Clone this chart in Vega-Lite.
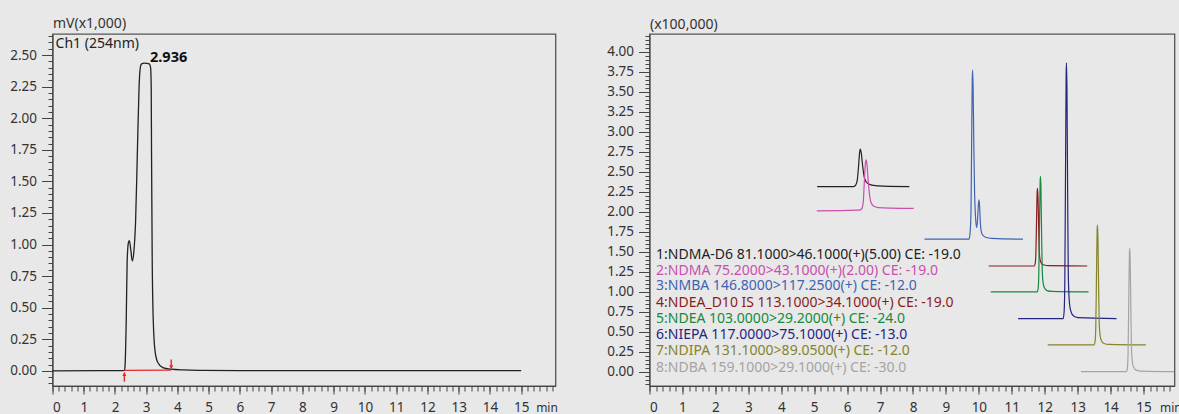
{
  "$schema": "https://vega.github.io/schema/vega-lite/v6.json",
  "background": "#e8e8e8",
  "padding": {"left": 8.5, "top": 16, "right": 0, "bottom": 0},
  "bounds": "flush",
  "spacing": 94,
  "config": {
    "view": {"stroke": "#555555", "strokeWidth": 1.3},
    "font": "Noto Sans",
    "axis": {"labelFont": "Noto Sans", "labelFontSize": 13.5, "labelColor": "#333333", "tickColor": "#444444", "domainColor": "#444444", "grid": false, "titleFont": "Noto Sans", "titleFontWeight": "normal", "titleColor": "#333333"}
  },
  "datasets": {
    "left": [
      {"t": 0, "v": 0}, {"t": 1.5, "v": 0.001}, {"t": 2.2, "v": 0.001}, {"t": 2.3, "v": 0.003}, {"t": 2.32, "v": 0.03},
      {"t": 2.36, "v": 0.4}, {"t": 2.39, "v": 0.87}, {"t": 2.43, "v": 1.015}, {"t": 2.46, "v": 1.03}, {"t": 2.51, "v": 0.95},
      {"t": 2.554, "v": 0.87}, {"t": 2.606, "v": 0.949}, {"t": 2.66, "v": 1.187}, {"t": 2.715, "v": 1.714}, {"t": 2.77, "v": 2.241},
      {"t": 2.81, "v": 2.4}, {"t": 2.85, "v": 2.431}, {"t": 2.94, "v": 2.437}, {"t": 3.1, "v": 2.43}, {"t": 3.14, "v": 2.4},
      {"t": 3.16, "v": 2.24}, {"t": 3.17, "v": 1.71}, {"t": 3.19, "v": 0.93}, {"t": 3.225, "v": 0.4}, {"t": 3.28, "v": 0.16},
      {"t": 3.37, "v": 0.066}, {"t": 3.53, "v": 0.026}, {"t": 3.79, "v": 0.013}, {"t": 4.2, "v": 0.007}, {"t": 4.8, "v": 0.004},
      {"t": 6, "v": 0.002}, {"t": 15, "v": 0.001}
    ],
    "redbase": [{"t": 2.3, "v": 0.003}, {"t": 3.8, "v": 0.006}],
    "arrowup": [{"t": 2.3, "v": -0.046}],
    "arrowdown": [{"t": 3.8, "v": 0.05}],
    "leftlabel": [{"t": 0.1, "v": 2.585, "label": "Ch1 (254nm)"}],
    "peaklabel": [{"t": 3.12, "v": 2.48, "label": "2.936"}],
    "traces": [
      {"s": "NDMA-D6", "t": 5.09, "v": 2.3125}, {"s": "NDMA-D6", "t": 6.2, "v": 2.3125}, {"s": "NDMA-D6", "t": 6.26, "v": 2.33},
      {"s": "NDMA-D6", "t": 6.31, "v": 2.4}, {"s": "NDMA-D6", "t": 6.35, "v": 2.58}, {"s": "NDMA-D6", "t": 6.38, "v": 2.74},
      {"s": "NDMA-D6", "t": 6.4, "v": 2.78}, {"s": "NDMA-D6", "t": 6.43, "v": 2.73}, {"s": "NDMA-D6", "t": 6.47, "v": 2.58},
      {"s": "NDMA-D6", "t": 6.52, "v": 2.43}, {"s": "NDMA-D6", "t": 6.58, "v": 2.37}, {"s": "NDMA-D6", "t": 6.66, "v": 2.345},
      {"s": "NDMA-D6", "t": 6.8, "v": 2.327}, {"s": "NDMA-D6", "t": 7.1, "v": 2.318}, {"s": "NDMA-D6", "t": 7.89, "v": 2.3125},

      {"s": "NDMA", "t": 5.08, "v": 2.009}, {"s": "NDMA", "t": 6.3, "v": 2.018}, {"s": "NDMA", "t": 6.4, "v": 2.022},
      {"s": "NDMA", "t": 6.45, "v": 2.04}, {"s": "NDMA", "t": 6.49, "v": 2.12}, {"s": "NDMA", "t": 6.52, "v": 2.35},
      {"s": "NDMA", "t": 6.55, "v": 2.58}, {"s": "NDMA", "t": 6.57, "v": 2.646}, {"s": "NDMA", "t": 6.6, "v": 2.6},
      {"s": "NDMA", "t": 6.63, "v": 2.44}, {"s": "NDMA", "t": 6.67, "v": 2.25}, {"s": "NDMA", "t": 6.72, "v": 2.12},
      {"s": "NDMA", "t": 6.8, "v": 2.07}, {"s": "NDMA", "t": 6.95, "v": 2.05}, {"s": "NDMA", "t": 7.3, "v": 2.043},
      {"s": "NDMA", "t": 8.02, "v": 2.04},

      {"s": "NMBA", "t": 8.35, "v": 1.655}, {"s": "NMBA", "t": 9.7, "v": 1.655}, {"s": "NMBA", "t": 9.73, "v": 1.72},
      {"s": "NMBA", "t": 9.76, "v": 1.97}, {"s": "NMBA", "t": 9.78, "v": 2.82}, {"s": "NMBA", "t": 9.8, "v": 3.66},
      {"s": "NMBA", "t": 9.81, "v": 3.77}, {"s": "NMBA", "t": 9.825, "v": 3.56}, {"s": "NMBA", "t": 9.845, "v": 2.9},
      {"s": "NMBA", "t": 9.87, "v": 2.25}, {"s": "NMBA", "t": 9.9, "v": 1.92}, {"s": "NMBA", "t": 9.935, "v": 1.8},
      {"s": "NMBA", "t": 9.96, "v": 1.9}, {"s": "NMBA", "t": 9.985, "v": 2.08}, {"s": "NMBA", "t": 10.005, "v": 2.146},
      {"s": "NMBA", "t": 10.025, "v": 2.05}, {"s": "NMBA", "t": 10.045, "v": 1.86}, {"s": "NMBA", "t": 10.07, "v": 1.76},
      {"s": "NMBA", "t": 10.11, "v": 1.71}, {"s": "NMBA", "t": 10.2, "v": 1.68}, {"s": "NMBA", "t": 10.4, "v": 1.665},
      {"s": "NMBA", "t": 11.34, "v": 1.655},

      {"s": "NDEA_D10", "t": 10.3, "v": 1.32}, {"s": "NDEA_D10", "t": 11.68, "v": 1.32}, {"s": "NDEA_D10", "t": 11.71, "v": 1.349},
      {"s": "NDEA_D10", "t": 11.73, "v": 1.466}, {"s": "NDEA_D10", "t": 11.75, "v": 1.854}, {"s": "NDEA_D10", "t": 11.77, "v": 2.242},
      {"s": "NDEA_D10", "t": 11.78, "v": 2.29}, {"s": "NDEA_D10", "t": 11.795, "v": 2.193}, {"s": "NDEA_D10", "t": 11.815, "v": 1.805},
      {"s": "NDEA_D10", "t": 11.835, "v": 1.495}, {"s": "NDEA_D10", "t": 11.86, "v": 1.398}, {"s": "NDEA_D10", "t": 11.9, "v": 1.354},
      {"s": "NDEA_D10", "t": 11.98, "v": 1.332}, {"s": "NDEA_D10", "t": 12.13, "v": 1.324}, {"s": "NDEA_D10", "t": 13.29, "v": 1.32},

      {"s": "NDEA", "t": 10.36, "v": 0.996}, {"s": "NDEA", "t": 11.77, "v": 0.996}, {"s": "NDEA", "t": 11.8, "v": 1.039},
      {"s": "NDEA", "t": 11.82, "v": 1.213}, {"s": "NDEA", "t": 11.84, "v": 1.79}, {"s": "NDEA", "t": 11.86, "v": 2.368},
      {"s": "NDEA", "t": 11.87, "v": 2.44}, {"s": "NDEA", "t": 11.885, "v": 2.296}, {"s": "NDEA", "t": 11.905, "v": 1.718},
      {"s": "NDEA", "t": 11.925, "v": 1.256}, {"s": "NDEA", "t": 11.95, "v": 1.112}, {"s": "NDEA", "t": 11.99, "v": 1.047},
      {"s": "NDEA", "t": 12.07, "v": 1.013}, {"s": "NDEA", "t": 12.22, "v": 1.002}, {"s": "NDEA", "t": 13.33, "v": 0.996},

      {"s": "NIEPA", "t": 11.19, "v": 0.6625}, {"s": "NIEPA", "t": 12.56, "v": 0.6625}, {"s": "NIEPA", "t": 12.59, "v": 0.758},
      {"s": "NIEPA", "t": 12.61, "v": 1.142}, {"s": "NIEPA", "t": 12.63, "v": 2.421}, {"s": "NIEPA", "t": 12.65, "v": 3.7},
      {"s": "NIEPA", "t": 12.66, "v": 3.86}, {"s": "NIEPA", "t": 12.675, "v": 3.54}, {"s": "NIEPA", "t": 12.695, "v": 2.261},
      {"s": "NIEPA", "t": 12.715, "v": 1.238}, {"s": "NIEPA", "t": 12.74, "v": 0.918}, {"s": "NIEPA", "t": 12.78, "v": 0.774},
      {"s": "NIEPA", "t": 12.86, "v": 0.701}, {"s": "NIEPA", "t": 13.01, "v": 0.675}, {"s": "NIEPA", "t": 14.18, "v": 0.6625},

      {"s": "NDIPA", "t": 12.09, "v": 0.334}, {"s": "NDIPA", "t": 13.5, "v": 0.334}, {"s": "NDIPA", "t": 13.53, "v": 0.379},
      {"s": "NDIPA", "t": 13.55, "v": 0.559}, {"s": "NDIPA", "t": 13.57, "v": 1.159}, {"s": "NDIPA", "t": 13.59, "v": 1.759},
      {"s": "NDIPA", "t": 13.6, "v": 1.834}, {"s": "NDIPA", "t": 13.615, "v": 1.684}, {"s": "NDIPA", "t": 13.635, "v": 1.084},
      {"s": "NDIPA", "t": 13.655, "v": 0.604}, {"s": "NDIPA", "t": 13.68, "v": 0.454}, {"s": "NDIPA", "t": 13.72, "v": 0.387},
      {"s": "NDIPA", "t": 13.8, "v": 0.352}, {"s": "NDIPA", "t": 13.95, "v": 0.34}, {"s": "NDIPA", "t": 15.07, "v": 0.334},

      {"s": "NDBA", "t": 13.1, "v": 0}, {"s": "NDBA", "t": 14.48, "v": 0}, {"s": "NDBA", "t": 14.51, "v": 0.046},
      {"s": "NDBA", "t": 14.53, "v": 0.231}, {"s": "NDBA", "t": 14.55, "v": 0.847}, {"s": "NDBA", "t": 14.57, "v": 1.463},
      {"s": "NDBA", "t": 14.58, "v": 1.54}, {"s": "NDBA", "t": 14.595, "v": 1.386}, {"s": "NDBA", "t": 14.615, "v": 0.77},
      {"s": "NDBA", "t": 14.635, "v": 0.277}, {"s": "NDBA", "t": 14.66, "v": 0.123}, {"s": "NDBA", "t": 14.7, "v": 0.054},
      {"s": "NDBA", "t": 14.78, "v": 0.018}, {"s": "NDBA", "t": 14.93, "v": 0.006}, {"s": "NDBA", "t": 15.94, "v": 0}
    ],
    "legend": [
      {"s": "NDMA-D6", "t": 0.2, "v": 1.459, "label": "1:NDMA-D6 81.1000>46.1000(+)(5.00) CE: -19.0"},
      {"s": "NDMA", "t": 0.2, "v": 1.258, "label": "2:NDMA 75.2000>43.1000(+)(2.00) CE: -19.0"},
      {"s": "NMBA", "t": 0.2, "v": 1.0675, "label": "3:NMBA  146.8000>117.2500(+) CE: -12.0"},
      {"s": "NDEA_D10", "t": 0.2, "v": 0.8625, "label": "4:NDEA_D10 IS 113.1000>34.1000(+) CE: -19.0"},
      {"s": "NDEA", "t": 0.2, "v": 0.655, "label": "5:NDEA 103.0000>29.2000(+) CE: -24.0"},
      {"s": "NIEPA", "t": 0.2, "v": 0.459, "label": "6:NIEPA 117.0000>75.1000(+) CE: -13.0"},
      {"s": "NDIPA", "t": 0.2, "v": 0.259, "label": "7:NDIPA 131.1000>89.0500(+) CE: -12.0"},
      {"s": "NDBA", "t": 0.2, "v": 0.05, "label": "8:NDBA 159.1000>29.1000(+) CE: -30.0"}
    ]
  },
  "hconcat": [
    {
      "width": 503,
      "height": 352,
      "layer": [
        {
          "data": {"name": "left"},
          "mark": {"type": "line", "color": "#222222", "strokeWidth": 1.3, "interpolate": "monotone"},
          "encoding": {
            "x": {"field": "t", "type": "quantitative", "scale": {"domain": [0, 16.1], "nice": false, "zero": false},
              "axis": {"orient": "bottom", "values": [0,1,2,3,4,5,6,7,8,9,10,11,12,13,14,15], "format": "d", "tickSize": 8, "labelPadding": 6,
                "title": "min", "titleFontSize": 12, "titleX": 494, "titleY": 25, "titleAlign": "center", "titleBaseline": "alphabetic"}},
            "y": {"field": "v", "type": "quantitative", "scale": {"domain": [-0.12, 2.667], "nice": false, "zero": false},
              "axis": {"orient": "left", "values": [0,0.25,0.5,0.75,1,1.25,1.5,1.75,2,2.25,2.5], "format": ".2f", "tickSize": 11, "labelPadding": 5,
                "title": "mV(x1,000)", "titleAngle": 0, "titleAlign": "left", "titleBaseline": "middle", "titleX": 0, "titleY": -10.3, "titleFontSize": 14}}
          }
        },
        {
          "data": {"name": "redbase"},
          "mark": {"type": "line", "color": "#e8282a", "strokeWidth": 1.3},
          "encoding": {
            "x": {"field": "t", "type": "quantitative",
              "axis": {"orient": "bottom", "values": [0,0.2,0.4,0.6,0.8,1,1.2,1.4,1.6,1.8,2,2.2,2.4,2.6,2.8,3,3.2,3.4,3.6,3.8,4,4.2,4.4,4.6,4.8,5,5.2,5.4,5.6,5.8,6,6.2,6.4,6.6,6.8,7,7.2,7.4,7.6,7.8,8,8.2,8.4,8.6,8.8,9,9.2,9.4,9.6,9.8,10,10.2,10.4,10.6,10.8,11,11.2,11.4,11.6,11.8,12,12.2,12.4,12.6,12.8,13,13.2,13.4,13.6,13.8,14,14.2,14.4,14.6,14.8,15,15.2,15.4,15.6,15.8,16], "labels": false, "tickSize": 5, "title": null, "domain": false}},
            "y": {"field": "v", "type": "quantitative",
              "axis": {"orient": "left", "values": [-0.1,-0.05,0,0.05,0.1,0.15,0.2,0.25,0.3,0.35,0.4,0.45,0.5,0.55,0.6,0.65,0.7,0.75,0.8,0.85,0.9,0.95,1,1.05,1.1,1.15,1.2,1.25,1.3,1.35,1.4,1.45,1.5,1.55,1.6,1.65,1.7,1.75,1.8,1.85,1.9,1.95,2,2.05,2.1,2.15,2.2,2.25,2.3,2.35,2.4,2.45,2.5,2.55,2.6,2.65], "labels": false, "tickSize": 4.5, "title": null, "domain": false}}
          }
        },
        {
          "data": {"name": "arrowup"},
          "mark": {"type": "point", "shape": "arrow", "filled": true, "color": "#e8282a", "size": 100, "opacity": 1, "angle": 0},
          "encoding": {"x": {"field": "t", "type": "quantitative", "axis": null}, "y": {"field": "v", "type": "quantitative", "axis": null}}
        },
        {
          "data": {"name": "arrowdown"},
          "mark": {"type": "point", "shape": "arrow", "filled": true, "color": "#e8282a", "size": 100, "opacity": 1, "angle": 180},
          "encoding": {"x": {"field": "t", "type": "quantitative", "axis": null}, "y": {"field": "v", "type": "quantitative", "axis": null}}
        },
        {
          "data": {"name": "leftlabel"},
          "mark": {"type": "text", "align": "left", "baseline": "middle", "fontSize": 14, "color": "#222222"},
          "encoding": {"x": {"field": "t", "type": "quantitative", "axis": null}, "y": {"field": "v", "type": "quantitative", "axis": null}, "text": {"field": "label"}}
        },
        {
          "data": {"name": "peaklabel"},
          "mark": {"type": "text", "align": "left", "baseline": "middle", "fontSize": 14.5, "fontWeight": "bold", "color": "#111111"},
          "encoding": {"x": {"field": "t", "type": "quantitative", "axis": null}, "y": {"field": "v", "type": "quantitative", "axis": null}, "text": {"field": "label"}}
        }
      ],
      "resolve": {"axis": {"x": "independent", "y": "independent"}}
    },
    {
      "width": 525,
      "height": 352,
      "layer": [
        {
          "data": {"name": "traces"},
          "mark": {"type": "line", "strokeWidth": 1.2, "interpolate": "monotone", "clip": true},
          "encoding": {
            "x": {"field": "t", "type": "quantitative", "scale": {"domain": [0, 15.94], "nice": false, "zero": false},
              "axis": {"orient": "bottom", "values": [0,1,2,3,4,5,6,7,8,9,10,11,12,13,14,15], "format": "d", "tickSize": 8, "labelPadding": 6,
                "title": "min", "titleFontSize": 12, "titleX": 510, "titleY": 25, "titleAlign": "left", "titleBaseline": "alphabetic"}},
            "y": {"field": "v", "type": "quantitative", "scale": {"domain": [-0.18, 4.22], "nice": false, "zero": false},
              "axis": {"orient": "left", "values": [0,0.25,0.5,0.75,1,1.25,1.5,1.75,2,2.25,2.5,2.75,3,3.25,3.5,3.75,4], "format": ".2f", "tickSize": 11, "labelPadding": 5,
                "title": "(x100,000)", "titleAngle": 0, "titleAlign": "left", "titleBaseline": "middle", "titleX": 0, "titleY": -9.7, "titleFontSize": 14}},
            "color": {"field": "s", "type": "nominal",
              "scale": {"domain": ["NDMA-D6", "NDMA", "NMBA", "NDEA_D10", "NDEA", "NIEPA", "NDIPA", "NDBA"],
                "range": ["#222222", "#c94fae", "#4163b3", "#8a1c1c", "#148a3e", "#24247f", "#84842a", "#a4a4a4"]},
              "legend": null}
          }
        },
        {
          "data": {"name": "legend"},
          "mark": {"type": "text", "align": "left", "baseline": "middle", "fontSize": 14},
          "encoding": {
            "x": {"field": "t", "type": "quantitative",
              "axis": {"orient": "bottom", "values": [0,0.2,0.4,0.6,0.8,1,1.2,1.4,1.6,1.8,2,2.2,2.4,2.6,2.8,3,3.2,3.4,3.6,3.8,4,4.2,4.4,4.6,4.8,5,5.2,5.4,5.6,5.8,6,6.2,6.4,6.6,6.8,7,7.2,7.4,7.6,7.8,8,8.2,8.4,8.6,8.8,9,9.2,9.4,9.6,9.8,10,10.2,10.4,10.6,10.8,11,11.2,11.4,11.6,11.8,12,12.2,12.4,12.6,12.8,13,13.2,13.4,13.6,13.8,14,14.2,14.4,14.6,14.8,15,15.2,15.4,15.6,15.8], "labels": false, "tickSize": 5, "title": null, "domain": false}},
            "y": {"field": "v", "type": "quantitative",
              "axis": {"orient": "left", "values": [-0.15,-0.1,-0.05,0,0.05,0.1,0.15,0.2,0.25,0.3,0.35,0.4,0.45,0.5,0.55,0.6,0.65,0.7,0.75,0.8,0.85,0.9,0.95,1,1.05,1.1,1.15,1.2,1.25,1.3,1.35,1.4,1.45,1.5,1.55,1.6,1.65,1.7,1.75,1.8,1.85,1.9,1.95,2,2.05,2.1,2.15,2.2,2.25,2.3,2.35,2.4,2.45,2.5,2.55,2.6,2.65,2.7,2.75,2.8,2.85,2.9,2.95,3,3.05,3.1,3.15,3.2,3.25,3.3,3.35,3.4,3.45,3.5,3.55,3.6,3.65,3.7,3.75,3.8,3.85,3.9,3.95,4,4.05,4.1,4.15,4.2], "labels": false, "tickSize": 4.5, "title": null, "domain": false}},
            "color": {"field": "s", "type": "nominal", "legend": null},
            "text": {"field": "label"}
          }
        }
      ],
      "resolve": {"axis": {"x": "independent", "y": "independent"}}
    }
  ]
}
